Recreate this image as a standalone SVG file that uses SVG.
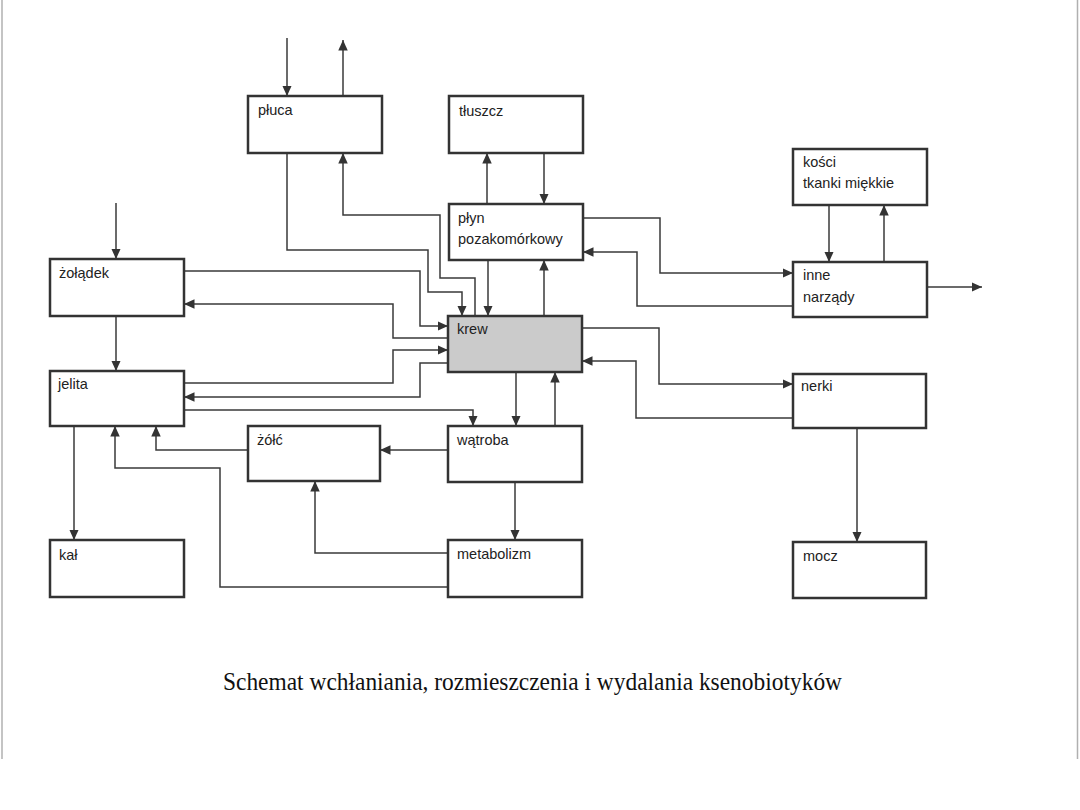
<svg xmlns="http://www.w3.org/2000/svg" width="1080" height="810" viewBox="0 0 1080 810">
<defs>
<marker id="ah" markerWidth="11" markerHeight="11" refX="10.5" refY="5.25" orient="auto" markerUnits="userSpaceOnUse">
<path d="M0,0.5 L10.5,5.25 L0,10 z" fill="#333"/>
</marker>
<style>
.box{fill:#fff;stroke:#333;stroke-width:2.5}
.blood{fill:#cbcbcb}
.lbl{font-family:"Liberation Sans",Arial,sans-serif;font-size:14.5px;fill:#222}
.c{fill:none;stroke:#3a3a3a;stroke-width:1.5;marker-end:url(#ah)}
.frame{stroke:#b0b0b0;stroke-width:1.5}
</style>
</defs>
<rect width="1080" height="810" fill="#fff"/>
<line class="frame" x1="2" y1="0" x2="2" y2="759"/>
<line class="frame" x1="1077.5" y1="0" x2="1077.5" y2="759"/>

<g id="connectors">
<path class="c" d="M287,38 V96"/>
<path class="c" d="M343,96 V40"/>
<path class="c" d="M287,153 V250 H428 V292 H462 V316"/>
<path class="c" d="M475,316 V278 H440 V215 H343 V153"/>
<path class="c" d="M488,260 V316"/>
<path class="c" d="M544,316 V260"/>
<path class="c" d="M487,204 V153"/>
<path class="c" d="M544,153 V204"/>
<path class="c" d="M583,218 H660 V273 H793"/>
<path class="c" d="M793,306 H637 V252 H583"/>
<path class="c" d="M829,205 V262"/>
<path class="c" d="M884,262 V205"/>
<path class="c" d="M927,287 H982"/>
<path class="c" d="M116,203 V259"/>
<path class="c" d="M116,316 V371"/>
<path class="c" d="M184,271 H420 V326 H448"/>
<path class="c" d="M448,338 H393 V304 H184"/>
<path class="c" d="M184,383 H393 V350 H448"/>
<path class="c" d="M448,363 H420 V397 H184"/>
<path class="c" d="M184,410 H473 V426"/>
<path class="c" d="M516,372 V426"/>
<path class="c" d="M555,426 V372"/>
<path class="c" d="M582,328 H659 V384 H793"/>
<path class="c" d="M793,418 H636 V361 H582"/>
<path class="c" d="M857,428 V542"/>
<path class="c" d="M448,450 H380"/>
<path class="c" d="M248,450 H156 V426"/>
<path class="c" d="M515,482 V540"/>
<path class="c" d="M448,553 H315 V481"/>
<path class="c" d="M448,587 H220 V468 H115 V426"/>
<path class="c" d="M74,426 V540"/>
</g>

<g id="pluca"><rect class="box" x="248" y="96" width="134" height="57"/><text class="lbl" x="258" y="115">płuca</text></g>
<g id="tluszcz"><rect class="box" x="449" y="96" width="134" height="57"/><text class="lbl" x="459" y="116">tłuszcz</text></g>
<g id="plyn"><rect class="box" x="449" y="204" width="134" height="56"/><text class="lbl" x="458" y="223">płyn</text><text class="lbl" x="458" y="244">pozakomórkowy</text></g>
<g id="kosci"><rect class="box" x="793" y="149" width="134" height="56"/><text class="lbl" x="803" y="167">kości</text><text class="lbl" x="803" y="188">tkanki miękkie</text></g>
<g id="inne"><rect class="box" x="793" y="262" width="134" height="55"/><text class="lbl" x="803" y="280">inne</text><text class="lbl" x="803" y="302">narządy</text></g>
<g id="zoladek"><rect class="box" x="50" y="259" width="134" height="57"/><text class="lbl" x="59" y="278">żołądek</text></g>
<g id="jelita"><rect class="box" x="50" y="371" width="134" height="55"/><text class="lbl" x="58" y="389">jelita</text></g>
<g id="krew"><rect class="box blood" x="448" y="316" width="134" height="56"/><text class="lbl" x="457" y="334">krew</text></g>
<g id="watroba"><rect class="box" x="448" y="426" width="134" height="56"/><text class="lbl" x="457" y="445">wątroba</text></g>
<g id="zolc"><rect class="box" x="248" y="426" width="132" height="55"/><text class="lbl" x="257" y="445">żółć</text></g>
<g id="nerki"><rect class="box" x="793" y="374" width="133" height="54"/><text class="lbl" x="801" y="391">nerki</text></g>
<g id="kal"><rect class="box" x="50" y="540" width="134" height="57"/><text class="lbl" x="59" y="560">kał</text></g>
<g id="metabolizm"><rect class="box" x="448" y="540" width="134" height="57"/><text class="lbl" x="457" y="559">metabolizm</text></g>
<g id="mocz"><rect class="box" x="793" y="542" width="133" height="56"/><text class="lbl" x="803" y="561">mocz</text></g>

<text id="title" x="223" y="690" textLength="619" lengthAdjust="spacingAndGlyphs" style="font-family:'Liberation Serif','Times New Roman',serif;font-size:26px;fill:#111">Schemat wchłaniania, rozmieszczenia i wydalania ksenobiotyków</text>
</svg>
